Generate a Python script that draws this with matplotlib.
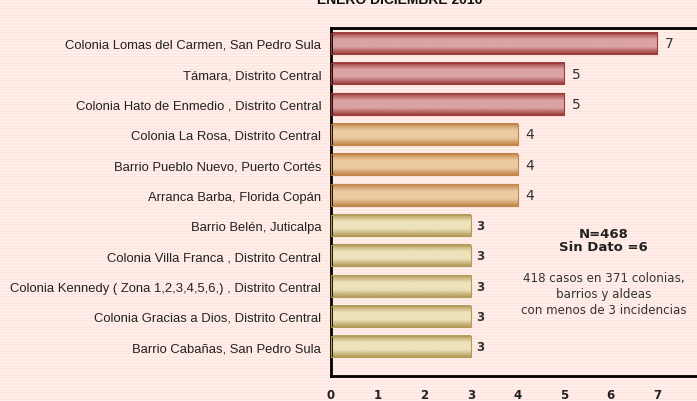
import numpy as np
import matplotlib.pyplot as plt
from matplotlib.colors import LinearSegmentedColormap

lugares = [
    'Colonia Lomas del Carmen, San Pedro Sula',
    'Támara, Distrito Central',
    'Colonia Hato de Enmedio , Distrito Central',
    'Colonia La Rosa, Distrito Central',
    'Barrio Pueblo Nuevo, Puerto Cortés',
    'Arranca Barba, Florida Copán',
    'Barrio Belén, Juticalpa',
    'Colonia Villa Franca , Distrito Central',
    'Colonia Kennedy ( Zona 1,2,3,4,5,6,) , Distrito Central',
    'Colonia Gracias a Dios, Distrito Central',
    'Barrio Cabañas, San Pedro Sula',
]
casos = [7, 5, 5, 4, 4, 4, 3, 3, 3, 3, 3]
ticks = [0, 1, 2, 3, 4, 5, 6, 7]

# (borde, centro) por grupo
tonos = {7: ('#9c3c3c', '#dba3a3'), 5: ('#9c3c3c', '#dba3a3'),
         4: ('#c2854a', '#eccba2'), 3: ('#b39a58', '#ede2ba')}

fondo = '#fde7e0'
fig = plt.figure(figsize=(6.97, 4.02), dpi=100, facecolor=fondo)

# fondo rayado
bg = fig.add_axes([0, 0, 1, 1], zorder=-5)
rayas = np.tile([0, 0, 1], 134)[:, None]
bg.imshow(rayas, aspect='auto', cmap=LinearSegmentedColormap.from_list('f', [fondo, '#fff2ee']),
          extent=[0, 1, 0, 1], interpolation='nearest')
bg.axis('off')

ax = fig.add_axes([331 / 697, 25 / 402, 373 / 697, 348 / 402])
ax.patch.set_alpha(0)
pos = np.arange(len(casos))
alto = 0.7
for y, v in zip(pos, casos):
    borde, centro = tonos[v]
    cmap = LinearSegmentedColormap.from_list('b', [borde, centro, centro, borde])
    grad = np.linspace(0, 1, 64)[:, None]
    ax.imshow(grad, cmap=cmap, aspect='auto', interpolation='bilinear',
              extent=[0, v, y + alto / 2, y - alto / 2], zorder=2)
    ax.add_patch(plt.Rectangle((0, y - alto / 2), v, alto, fill=False,
                               edgecolor=borde, lw=0.8, zorder=3))
    if v == 3:
        ax.text(v + 0.12, y, str(v), va='center', ha='left', fontsize=8.5,
                fontweight='bold', color='#333333', family='DejaVu Sans')
    else:
        ax.text(v + 0.17, y, str(v), va='center', ha='left', fontsize=10,
                color='#333333', family='DejaVu Sans')

ax.set_xlim(0, 8)
ax.set_ylim(len(casos) - 1 + 0.96, -0.5)
ax.set_yticks(pos)
ax.set_yticklabels(lugares, family='Liberation Sans', fontsize=9.4, color='#222222')
ax.set_xticks(ticks)
ax.set_xticklabels([str(t) for t in ticks], fontsize=8.5, fontweight='bold',
                   family='DejaVu Sans', color='#222222')
ax.tick_params(length=0, axis='y', pad=7)
ax.tick_params(length=0, axis='x', pad=9)
for s in ['left', 'top', 'bottom']:
    ax.spines[s].set_linewidth(2)
    ax.spines[s].set_color('black')
ax.spines['right'].set_visible(False)

ax.text(5.85, 6.48, 'N=468\nSin Dato =6', ha='center', va='center', fontsize=9.5,
        fontweight='bold', family='DejaVu Sans', color='#222222', linespacing=1.05)
ax.text(5.85, 8.25, '418 casos en 371 colonias,\nbarrios y aldeas\ncon menos de 3 incidencias',
        ha='center', va='center', fontsize=8.6, family='DejaVu Sans', color='#333333',
        linespacing=1.3)

fig.text(400 / 697, 395 / 402, 'ENERO DICIEMBRE 2016', ha='center', va='bottom',
         fontsize=10, fontweight='bold', family='Liberation Sans', color='#111111')

fig.savefig('out.png', dpi=100, facecolor=fondo)
